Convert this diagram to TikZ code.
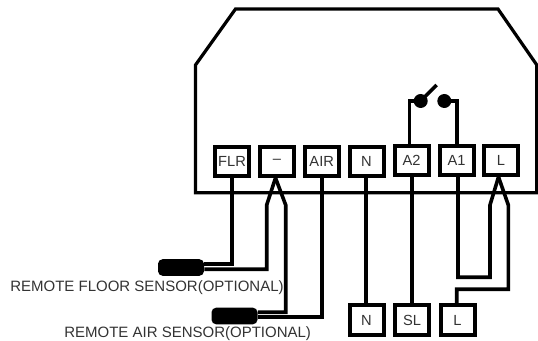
\documentclass[tikz,border=0pt]{standalone}
\usepackage{fontspec}
\setmainfont{Liberation Sans}
\tikzset{
  x=0.75pt,y=-0.75pt,
  wire/.style={line width=2.7pt,line join=miter},
  term/.style={draw,line width=3pt,minimum width=25.5pt,minimum height=22pt,inner sep=0pt,font=\fontsize{11pt}{12pt}\selectfont,text=black!80},
  lbl/.style={inner sep=0pt,anchor=west,font=\fontsize{11.25pt}{12pt}\selectfont,text=black!80},
  probe/.style={fill=black,rounded corners=3.5pt,minimum width=34.5pt,minimum height=12.5pt,inner sep=0pt},
  contact/.style={circle,fill=black,minimum size=10.5pt,inner sep=0pt}
}
\begin{document}
\begin{tikzpicture}
\useasboundingbox (0,0) rectangle (538,341);
\coordinate (h1) at (235.5,9);
\coordinate (h2) at (498,9);
\coordinate (h3) at (536.8,65);
\coordinate (h4) at (536.8,192.7);
\coordinate (h5) at (195.5,192.7);
\coordinate (h6) at (195.5,65);
\draw[line width=2.4pt,line join=miter] (h1)--(h2)--(h3)--(h4)--(h5)--(h6)--cycle;
\node[term,fill=white] (flr) at (232,161.5) {FLR};
\node[term,fill=white] (minus) at (277,161.5) {--};
\node[term,fill=white] (air) at (321.7,161.8) {AIR};
\node[term,fill=white] (n) at (366.5,161.5) {N};
\node[term,fill=white] (a2) at (411.5,160.5) {A2};
\node[term,fill=white] (a1) at (456.5,160.5) {A1};
\node[term,fill=white] (l) at (501,160.5) {L};
\node[term] (nb) at (366.5,320) {N};
\node[term] (sl) at (412,320) {SL};
\node[term] (lb) at (457.5,320) {L};
\node[contact] (c1) at (420.7,101) {};
\node[contact] (c2) at (444.3,101) {};
\coordinate (sw) at (436.7,85);
\coordinate (mt) at (275.5,178);
\coordinate (lt) at (498.5,177);
\draw[wire] (c1.center)--(sw);
\draw[wire] (c1.center)-|(409.3,144);
\draw[wire] (c2.center)-|(456.7,144);
\node[probe] (p1) at (181,267.5) {};
\node[probe] (p2) at (234.5,316) {};
\draw[wire] (231.7,178)--(231.7,264)--(p1.east|-0,264);
\draw[wire] (mt)--(266.7,205)--(266.7,269.3)--(p1.east|-0,269.3);
\draw[wire] (mt)--(285.7,205)--(285.7,312.3)--(p2.east|-0,312.3);
\draw[wire] (321.7,178)--(321.7,317.3)--(p2.east|-0,317.3);
\draw[wire] (366,178)--(366,303);
\draw[wire] (411.7,177)--(411.7,303);
\draw[wire] (458,177)--(458,277.3)--(490,277.3)--(490,205)--(lt);
\draw[wire] (lt)--(508.3,205)--(508.3,289.3)--(456.7,289.3)--(456.7,303);
\node[lbl] (t1) at (10,287.5) {REMOTE FLOOR SENSOR(OPTIONAL)};
\node[lbl] (t2) at (64,334) {REMOTE AIR SENSOR(OPTIONAL)};
\end{tikzpicture}
\end{document}
